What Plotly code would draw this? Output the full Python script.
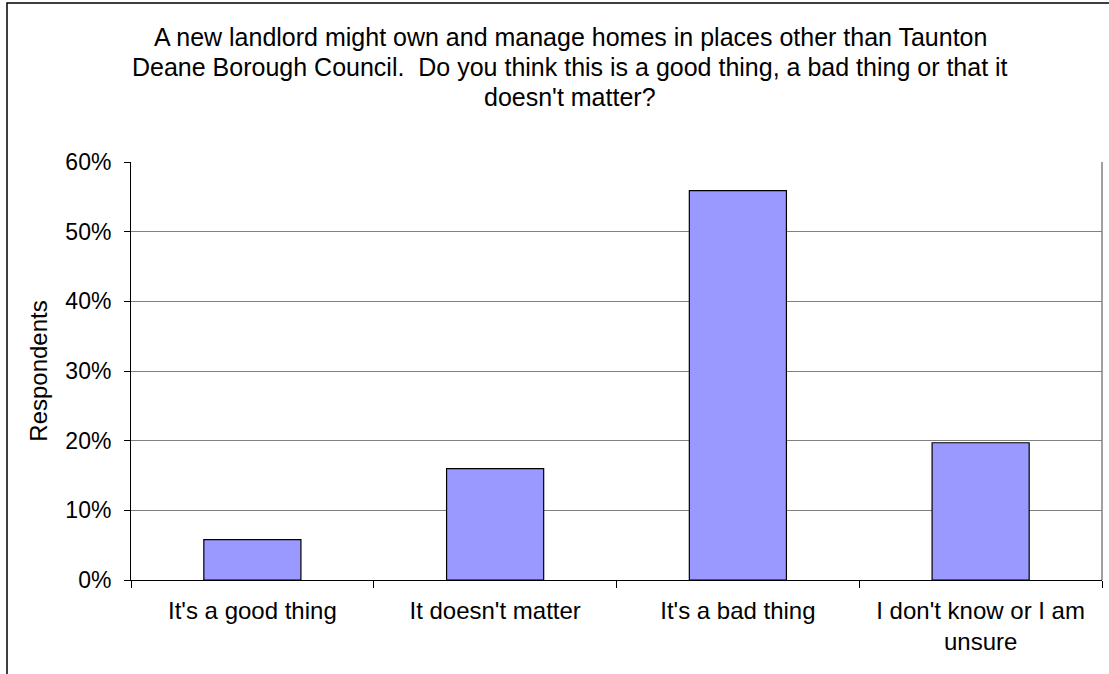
import plotly.graph_objects as go

# Survey responses (share of respondents)
categories = ["It's a good thing", "It doesn't matter", "It's a bad thing",
              "I don't know or I am<br>unsure"]
shares = [0.058, 0.16, 0.559, 0.197]
y_ticks = [0, 0.1, 0.2, 0.3, 0.4, 0.5, 0.6]
y_tick_labels = ["0%", "10%", "20%", "30%", "40%", "50%", "60%"]

title_lines = [
    "A new landlord might own and manage homes in places other than Taunton",
    "Deane Borough Council.  Do you think this is a good thing, a bad thing or that it",
    "doesn't matter?",
]

FONT = "Liberation Sans, Arial, sans-serif"

fig = go.Figure(go.Bar(
    x=categories,
    y=shares,
    width=0.4,
    marker=dict(color="#9999FF", line=dict(color="#000000", width=1.2)),
))

fig.update_layout(
    width=1109, height=674,
    margin=dict(l=131, r=7, t=162, b=94),
    paper_bgcolor="white", plot_bgcolor="white",
    font=dict(family=FONT, size=23, color="#000000"),
    showlegend=False,
    xaxis=dict(
        type="category",
        showgrid=False,
        showline=True, linecolor="#000000", linewidth=1,
        ticks="outside", tickson="boundaries", ticklen=7, tickcolor="#000000",
        tickfont=dict(size=24), ticklabelstandoff=9,
    ),
    yaxis=dict(
        range=[0, 0.6],
        tickvals=y_ticks, ticktext=y_tick_labels,
        showgrid=True, gridcolor="#808080", gridwidth=1,
        showline=True, linecolor="#000000", linewidth=1,
        ticks="outside", ticklen=6, tickcolor="#000000",
        zeroline=False,
        tickfont=dict(size=23), ticklabelstandoff=8,
        title=dict(text="Respondents", font=dict(size=24), standoff=10),
    ),
)

# Chart title block, one line per annotation
for i, line in enumerate(title_lines):
    fig.add_annotation(
        text=line, xref="paper", yref="paper",
        x=(570 - 131) / 971, y=(580 - (37 + 30 * i)) / 418,
        xanchor="center", yanchor="middle", showarrow=False,
        font=dict(family=FONT, size=25, color="#000000"),
    )

# Plot area right edge and outer chart frame
fig.add_shape(type="line", xref="paper", yref="paper", x0=1, x1=1, y0=0, y1=1,
              line=dict(color="#808080", width=1.5))
fig.add_shape(type="rect", xref="paper", yref="paper",
              x0=(7 - 131) / 971, x1=1.2, y0=-0.4, y1=(580 - 3) / 418,
              line=dict(color="#000000", width=1.5), fillcolor="rgba(0,0,0,0)")

fig.write_html("out.html")
